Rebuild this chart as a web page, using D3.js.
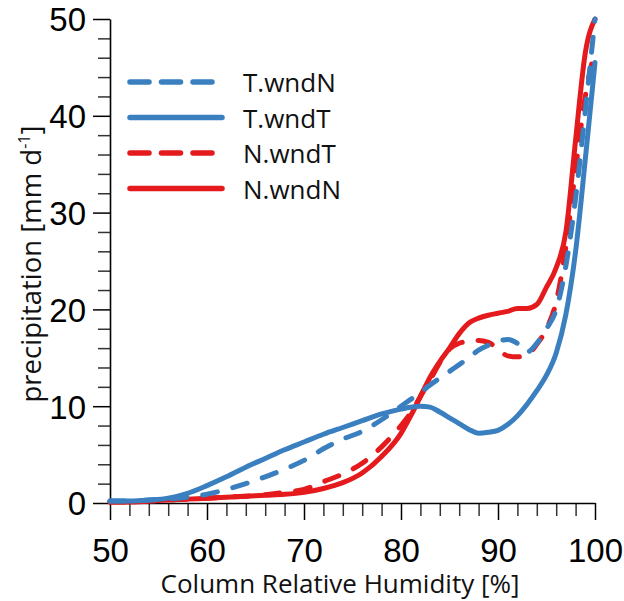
<!DOCTYPE html>
<html>
<head>
<meta charset="utf-8">
<script src="https://cdn.jsdelivr.net/npm/d3@7"></script>
<style>
  html, body { margin: 0; padding: 0; background: #fff; }
  svg { display: block; }
</style>
</head>
<body>
<svg id="chart" width="624" height="601"></svg>
<script>
// Column relative humidity bins [%]
const rh = [50,52,54,56,58,60,62,64,66,68,70,72,74,76,78,80,81,82,83,84,85,86,87,88,89,90,91,92,93,94,95,96,97,98,99,100];

// Mean precipitation [mm/day] per bin for each experiment
const tWndN = [0.2,0.2,0.3,0.4,0.6,0.9,1.4,2.0,2.7,3.5,4.4,5.6,6.6,7.4,8.6,10.0,10.7,11.4,12.2,12.9,13.6,14.3,15.0,15.8,16.3,16.7,16.9,16.5,15.6,16.5,18.0,20.0,24.5,31.5,40.5,50.0];
const tWndT = [0.2,0.2,0.3,0.5,1.0,1.8,2.7,3.7,4.6,5.5,6.3,7.1,7.8,8.5,9.2,9.7,9.9,10.0,9.9,9.4,8.8,8.2,7.6,7.2,7.3,7.5,8.1,9.0,10.2,11.6,13.2,15.5,19.5,26.0,35.5,45.5];
const nWndT = [0.1,0.1,0.2,0.3,0.4,0.5,0.6,0.7,0.85,1.1,1.4,2.2,3.0,4.1,5.8,8.0,9.3,11.0,12.7,14.5,15.9,16.5,16.7,16.8,16.6,15.9,15.2,15.1,15.3,16.4,18.0,20.8,26.5,34.5,42.0,46.8];
const nWndN = [0.1,0.1,0.2,0.3,0.4,0.5,0.6,0.7,0.8,0.9,1.1,1.5,2.1,3.1,4.8,7.2,9.0,11.0,13.0,14.6,16.0,17.5,18.6,19.1,19.4,19.6,19.8,20.1,20.1,20.5,22.3,24.3,28.0,37.5,46.5,50.0];

const seriesNames = ["T.wndN", "T.wndT", "N.wndT", "N.wndN"];
const xTicks = [50,60,70,80,90,100];
const yTicks = [0,10,20,30,40,50];

const blue = "#3a7fbf";
const red = "#e41a1c";

const series = [
  { name: "N.wndN", values: nWndN, color: red,  dashed: false },
  { name: "N.wndT", values: nWndT, color: red,  dashed: true  },
  { name: "T.wndT", values: tWndT, color: blue, dashed: false },
  { name: "T.wndN", values: tWndN, color: blue, dashed: true  }
];

const svg = d3.select("#chart");
const x = d3.scaleLinear().domain([50, 100]).range([110, 595]);
const y = d3.scaleLinear().domain([0, 50]).range([503, 19]);

const tickFont = "'Liberation Sans', Arial, Helvetica, sans-serif";
const labelFont = "'Open Sans', 'Noto Sans', sans-serif";

// minor ticks every 2 units
const xMinor = d3.range(50, 101, 2).filter(v => v % 10 !== 0);
const yMinor = d3.range(0, 51, 2).filter(v => v % 10 !== 0);

function styleAxis(g) {
  g.selectAll("path.domain").attr("stroke", "#000").attr("stroke-width", 1.6);
  g.selectAll(".tick line").attr("stroke", "#000").attr("stroke-width", 1.5);
}

// x axis
svg.append("g")
  .attr("transform", `translate(0,${y(0)})`)
  .call(d3.axisBottom(x).tickValues(xMinor).tickSize(13).tickSizeOuter(0).tickFormat(""))
  .call(styleAxis)
  .call(g => g.select("path.domain").remove())
  .call(g => g.selectAll(".tick line").attr("stroke", "#333"));

svg.append("g")
  .attr("transform", `translate(0,${y(0)})`)
  .call(d3.axisBottom(x).tickValues(xTicks).tickSize(17).tickSizeOuter(0).tickPadding(19))
  .call(styleAxis)
  .call(g => g.selectAll(".tick text")
    .attr("font-family", tickFont).attr("font-size", 33).attr("fill", "#000"));

// y axis
svg.append("g")
  .attr("transform", `translate(${x(50)},0)`)
  .call(d3.axisLeft(y).tickValues(yMinor).tickSize(12).tickSizeOuter(0).tickFormat(""))
  .call(styleAxis)
  .call(g => g.select("path.domain").remove())
  .call(g => g.selectAll(".tick line").attr("stroke", "#333"));

svg.append("g")
  .attr("transform", `translate(${x(50)},0)`)
  .call(d3.axisLeft(y).tickValues(yTicks).tickSize(17).tickSizeOuter(0).tickPadding(7))
  .call(styleAxis)
  .call(g => g.selectAll(".tick text")
    .attr("font-family", tickFont).attr("font-size", 33).attr("fill", "#000")
    .attr("dy", "0.36em"));

// axis titles
svg.append("text")
  .attr("x", 340).attr("y", 593)
  .attr("text-anchor", "middle")
  .attr("font-family", labelFont).attr("font-size", 26).attr("fill", "#111")
  .text("Column Relative Humidity [%]");

const yl = svg.append("text")
  .attr("transform", "translate(41,264) rotate(-90)")
  .attr("text-anchor", "middle")
  .attr("font-family", labelFont).attr("font-size", 27.5).attr("fill", "#111");
yl.append("tspan").text("precipitation [mm d");
yl.append("tspan").attr("font-size", 16).attr("dy", -11).text("-1");
yl.append("tspan").attr("dy", 11).text("]");

// curves
const line = d3.line()
  .x((d, i) => x(rh[i]))
  .y(d => y(d))
  .curve(d3.curveMonotoneX);

svg.append("g").selectAll("path")
  .data(series)
  .join("path")
  .attr("d", s => line(s.values))
  .attr("fill", "none")
  .attr("stroke", s => s.color)
  .attr("stroke-width", 5)
  .attr("stroke-linecap", "round")
  .attr("stroke-linejoin", "round")
  .attr("stroke-dasharray", s => s.dashed ? "15,16" : null);

// legend
const legendOrder = seriesNames.map(n => series.find(s => s.name === n));
const lg = svg.append("g");
legendOrder.forEach((s, i) => {
  const ly = 82 + i * 35.5;
  lg.append("line")
    .attr("x1", 130).attr("x2", s.dashed ? 214 : 222)
    .attr("y1", ly).attr("y2", ly)
    .attr("stroke", s.color).attr("stroke-width", 5.5)
    .attr("stroke-linecap", "round")
    .attr("stroke-dasharray", s.dashed ? "19,12.5" : null);
  lg.append("text")
    .attr("x", 243).attr("y", ly + 10)
    .attr("font-family", labelFont).attr("font-size", 26).attr("fill", "#111")
    .text(s.name);
});
</script>
</body>
</html>
